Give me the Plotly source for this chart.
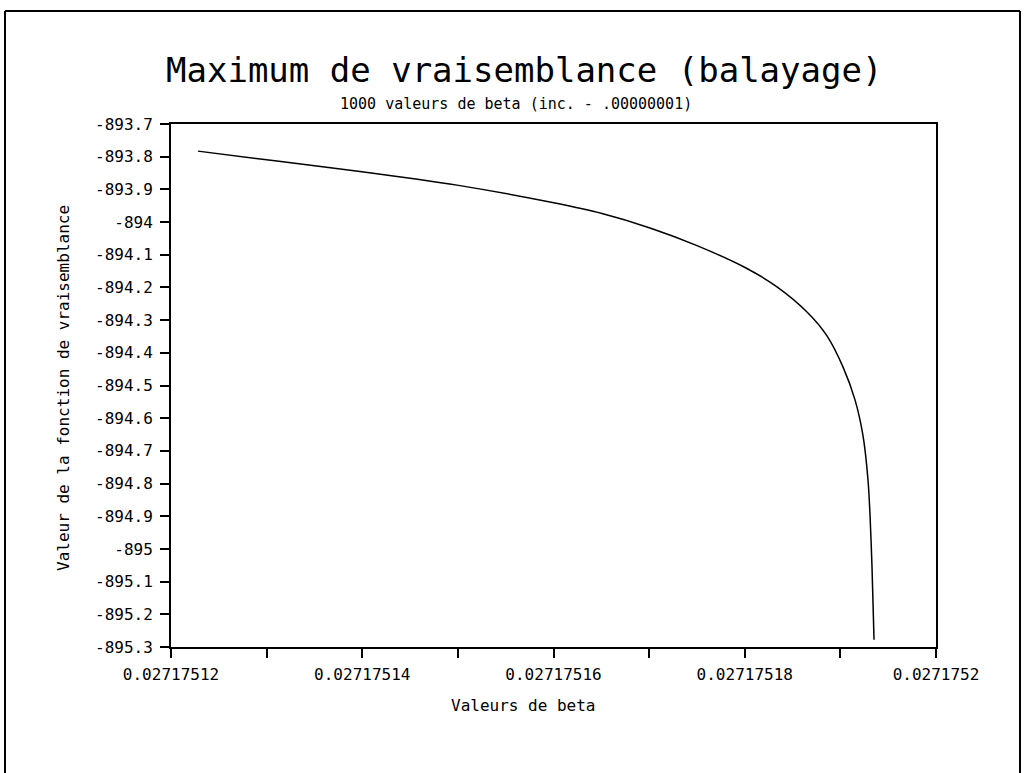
import plotly.graph_objects as go

# ---- data ----
beta = [0.02717512282, 0.02717513129, 0.02717513976, 0.02717514991, 0.02717516016,
        0.02717516507, 0.02717517009, 0.02717517501, 0.02717518003, 0.02717518337,
        0.02717518651, 0.02717518860, 0.02717519027, 0.02717519153, 0.02717519237,
        0.02717519289, 0.02717519310, 0.02717519331, 0.02717519352]
loglik = [-893.783, -893.814, -893.845, -893.887, -893.942,
          -893.974, -894.018, -894.072, -894.139, -894.198,
          -894.275, -894.348, -894.443, -894.544, -894.654,
          -894.789, -894.896, -895.058, -895.278]

x_tickvals = [0.02717512, 0.02717513, 0.02717514, 0.02717515, 0.02717516,
              0.02717517, 0.02717518, 0.02717519, 0.0271752]
x_ticktext = ["0.02717512", "", "0.02717514", "", "0.02717516",
              "", "0.02717518", "", "0.0271752"]
y_tickvals = [-893.7, -893.8, -893.9, -894.0, -894.1, -894.2, -894.3, -894.4,
              -894.5, -894.6, -894.7, -894.8, -894.9, -895.0, -895.1, -895.2, -895.3]
y_ticktext = ["-893.7", "-893.8", "-893.9", "-894", "-894.1", "-894.2", "-894.3", "-894.4",
              "-894.5", "-894.6", "-894.7", "-894.8", "-894.9", "-895", "-895.1", "-895.2", "-895.3"]

title_text = "Maximum de vraisemblance (balayage)"
subtitle_text = "1000 valeurs de beta (inc. - .00000001)"
x_title = "Valeurs de beta"
y_title = "Valeur de la fonction de vraisemblance"

# ---- layout geometry (page pixels) ----
W, H = 1025, 773
L, R, T, B = 171, 936, 124, 647
pw, ph = R - L, B - T

def px(x):
    return (x - L) / pw

def py(y):
    return 1 - (y - T) / ph

FONT = "DejaVu Sans Mono"

fig = go.Figure()
fig.add_trace(go.Scatter(
    x=beta, y=loglik, mode="lines",
    line=dict(color="black", width=1.5, shape="spline", smoothing=0.8),
    showlegend=False, hoverinfo="skip"))

fig.update_layout(
    width=W, height=H,
    margin=dict(l=L, r=W - R, t=T, b=H - B, pad=0),
    paper_bgcolor="white", plot_bgcolor="white",
    font=dict(family=FONT, color="black", size=16),
    xaxis=dict(
        range=[x_tickvals[0], x_tickvals[-1]],
        tickmode="array", tickvals=x_tickvals, ticktext=x_ticktext,
        ticks="outside", ticklen=9, tickwidth=1.5, tickcolor="black",
        showline=True, linecolor="black", linewidth=1.5, mirror=True,
        showgrid=False, zeroline=False,
        tickfont=dict(family=FONT, size=16), ticklabelstandoff=3,
    ),
    yaxis=dict(
        range=[-895.3, -893.7],
        tickmode="array", tickvals=y_tickvals, ticktext=y_ticktext,
        ticks="outside", ticklen=9, tickwidth=1.5, tickcolor="black",
        showline=True, linecolor="black", linewidth=2, mirror=True,
        showgrid=False, zeroline=False,
        tickfont=dict(family=FONT, size=16), ticklabelstandoff=4,
    ),
)

annotations = [
    dict(text=title_text, x=px(524), y=py(70), font=dict(family=FONT, size=34)),
    dict(text=subtitle_text, x=px(516), y=py(104), font=dict(family=FONT, size=15)),
    dict(text=x_title, x=px(523), y=py(705), font=dict(family=FONT, size=16)),
    dict(text=y_title, x=px(63), y=py(388), font=dict(family=FONT, size=16), textangle=-90),
]
for a in annotations:
    a.update(xref="paper", yref="paper", showarrow=False, xanchor="center", yanchor="middle")
    fig.add_annotation(**a)

# outer frame (top, left, right)
frame = dict(xref="paper", yref="paper", line=dict(color="black", width=2))
fig.add_shape(type="line", x0=px(5), x1=px(1020), y0=py(11), y1=py(11), **frame)
fig.add_shape(type="line", x0=px(5), x1=px(5), y0=py(11), y1=py(773), **frame)
fig.add_shape(type="line", x0=px(1020), x1=px(1020), y0=py(11), y1=py(773), **frame)

fig.write_html(
    "out.html",
    config={"displayModeBar": False},
    post_script="document.body.style.margin='0';document.body.style.overflow='hidden';",
)
